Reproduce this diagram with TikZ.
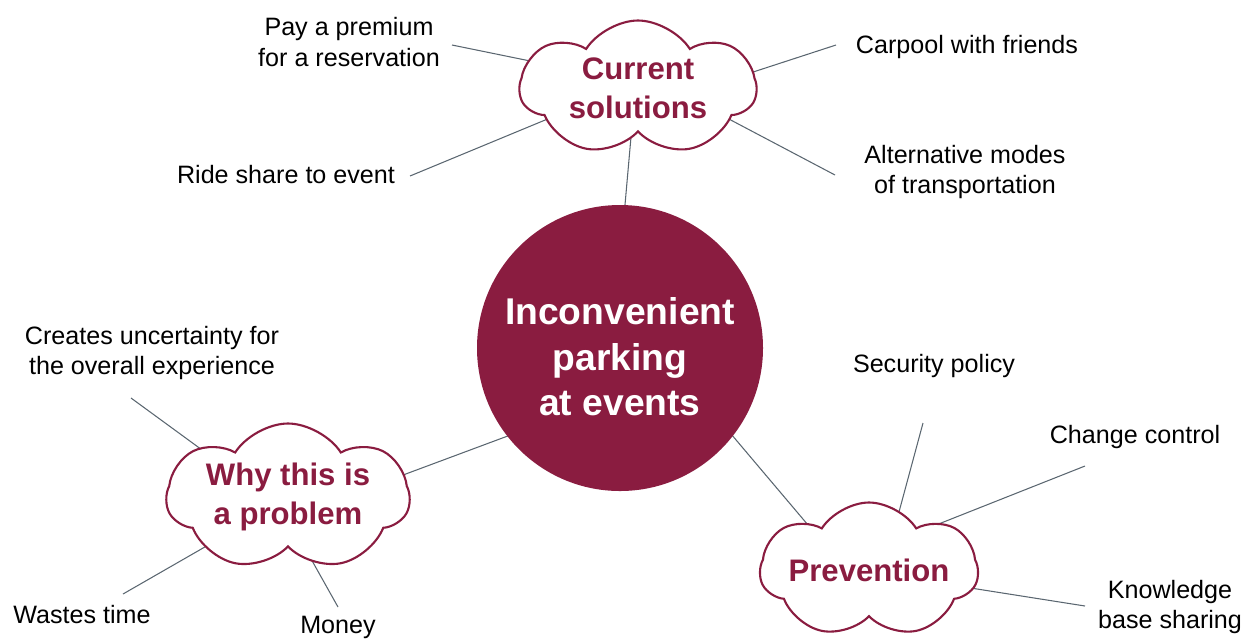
\documentclass[tikz,border=0pt]{standalone}
\usepackage{fontspec}
\setmainfont{Liberation Sans}
\usetikzlibrary{shapes.symbols,backgrounds}
\definecolor{wine}{RGB}{138,28,64}
\definecolor{linkgray}{RGB}{90,102,112}

\begin{document}
\begin{tikzpicture}[x=0.2mm,y=-0.2mm,
    topic/.style={cloud, cloud puffs=7, cloud puff arc=115, cloud ignores aspect, draw=wine, line width=1.2pt, fill=white, text=wine, font=\fontsize{17.7}{22}\selectfont\bfseries, align=center, inner sep=0pt},
    leaf/.style={font=\fontsize{14.3}{17.6}\selectfont, align=center, inner sep=0pt},
    link/.style={linkgray, line width=0.6pt}]
    \useasboundingbox (0,0) rectangle (1250,638);
    \node[circle, fill=wine, minimum size=57.2mm, inner sep=0pt] (hub) at (620,348) {};
    \node[text=white, font=\fontsize{21.2}{25.8}\selectfont\bfseries, align=center] (hubtext) at ([yshift=-5pt]hub.center) {Inconvenient\\parking\\at events};
    \node[topic, minimum width=47.2mm, minimum height=27mm] (cur) at (638,88) {Current\\solutions};
    \node[topic, minimum width=48.6mm, minimum height=29.4mm] (why) at (288,497) {Why this is\\a problem};
    \node[topic, minimum width=43.6mm, minimum height=27mm] (prev) at (869,570) {Prevention};
    \node[leaf] (premium) at (349,42) {Pay a premium\\for a reservation};
    \node[leaf] (ride) at (286,175) {Ride share to event};
    \node[leaf] (carpool) at (967,47) {Carpool with friends};
    \node[leaf] (altmodes) at (965,172) {Alternative modes\\of transportation};
    \node[leaf] (uncert) at (152,353) {Creates uncertainty for\\the overall experience};
    \node[leaf] (wastes) at (82,615) {Wastes time};
    \node[leaf] (money) at (338,627) {Money};
    \node[leaf] (secpol) at (934,366) {Security policy};
    \node[leaf] (change) at (1135,437) {Change control};
    \node[leaf] (knowledge) at (1170,607) {Knowledge\\base sharing};
    \coordinate (premium-end) at (452,45);
    \coordinate (ride-end) at (410,176);
    \coordinate (carpool-end) at (836,45);
    \coordinate (altmodes-end) at (835,175);
    \coordinate (uncert-end) at (131,398);
    \coordinate (wastes-end) at (123,594);
    \coordinate (money-end) at (338,607);
    \coordinate (secpol-end) at (923,423);
    \coordinate (change-end) at (1085,466);
    \coordinate (knowledge-end) at (1085,606);
    \begin{scope}[on background layer]
        \draw[link, shorten <=-4pt, shorten >=-4pt] (hub.88) -- (cur.262);
        \draw[link, shorten <=-4pt, shorten >=-4pt] (hub.218) -- (why.11);
        \draw[link, shorten <=-4pt, shorten >=-4pt] (hub.322) -- (prev.143);
        \draw[link, shorten >=-4pt] (premium-end) -- (cur.166);
        \draw[link, shorten >=-4pt] (ride-end) -- (cur.199);
        \draw[link, shorten >=-4pt] (carpool-end) -- (cur.8);
        \draw[link, shorten >=-4pt] (altmodes-end) -- (cur.341);
        \draw[link, shorten >=-4pt] (uncert-end) -- (why.151);
        \draw[link, shorten >=-4pt] (wastes-end) -- (why.211);
        \draw[link, shorten >=-4pt] (money-end) -- (why.291);
        \draw[link, shorten >=-4pt] (secpol-end) -- (prev.63);
        \draw[link, shorten >=-4pt] (change-end) -- (prev.33);
        \draw[link, shorten >=-4pt] (knowledge-end) -- (prev.350);
    \end{scope}
\end{tikzpicture}
\end{document}
